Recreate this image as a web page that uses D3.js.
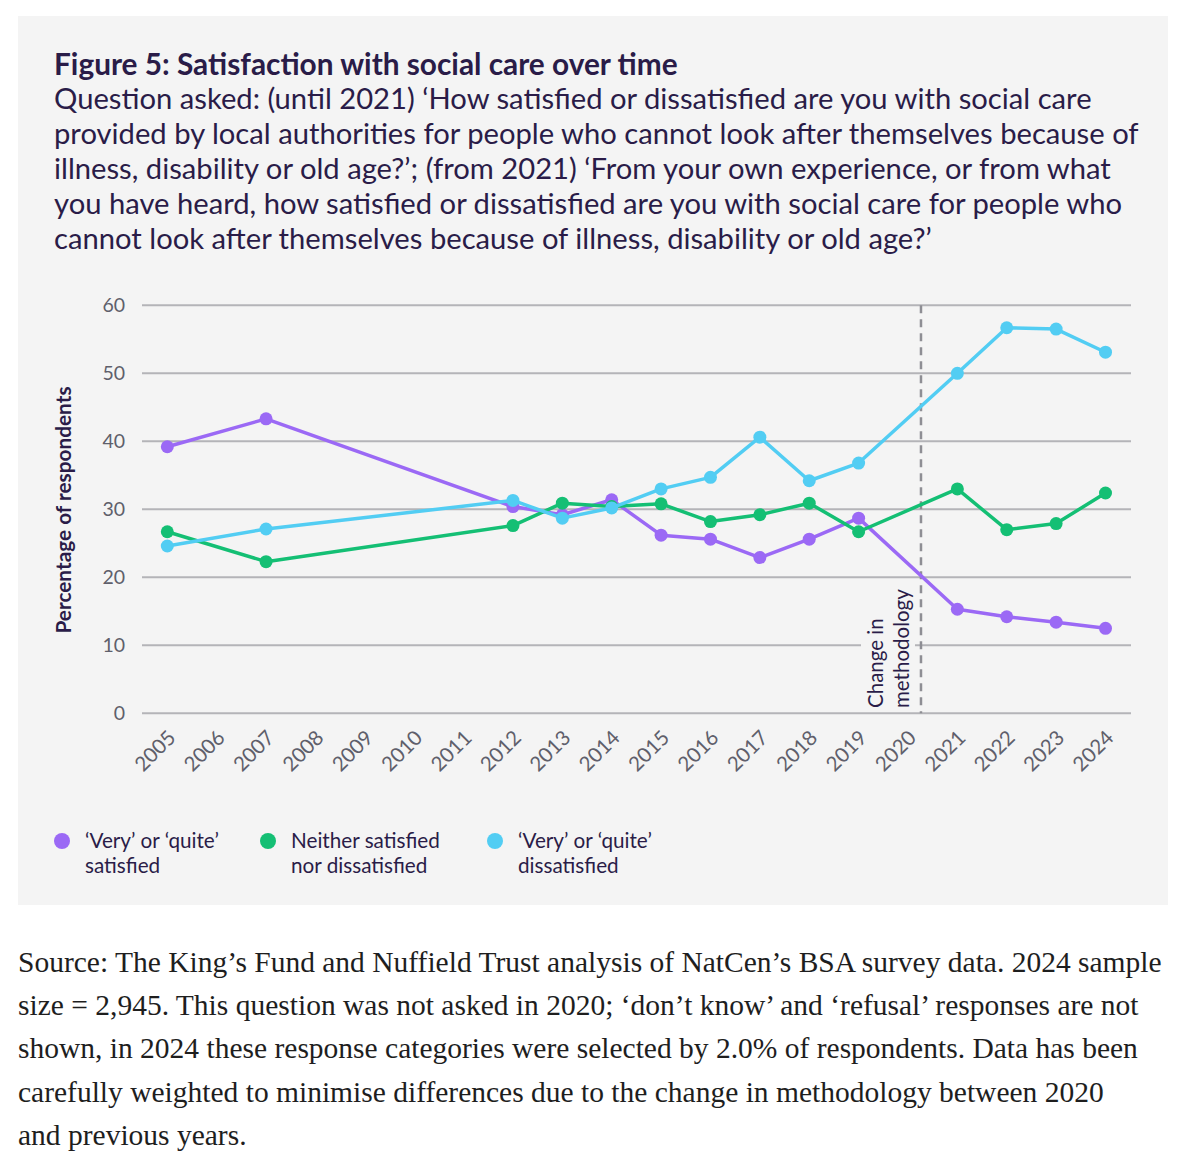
<!DOCTYPE html>
<html>
<head>
<meta charset="utf-8">
<script src="https://cdn.jsdelivr.net/npm/d3@7"></script>
<style>
  body { margin: 0; background: #ffffff; }
  svg { display: block; }
</style>
</head>
<body>
<div id="chart"></div>
<script>
// Survey years (no question asked in 2020)
var years = [2005, 2007, 2012, 2013, 2014, 2015, 2016, 2017, 2018, 2019, 2021, 2022, 2023, 2024];
var tickYears = d3.range(2005, 2025);
var yTicks = [0, 10, 20, 30, 40, 50, 60];

var satisfied    = [39.2, 43.3, 30.4, 29.2, 31.4, 26.2, 25.6, 22.9, 25.6, 28.7, 15.3, 14.2, 13.4, 12.5];
var neither      = [26.7, 22.3, 27.6, 30.9, 30.4, 30.8, 28.2, 29.2, 30.9, 26.7, 33.0, 27.0, 27.9, 32.4];
var dissatisfied = [24.6, 27.1, 31.3, 28.7, 30.2, 33.0, 34.7, 40.6, 34.2, 36.8, 50.0, 56.7, 56.5, 53.1];

var seriesNames = [["\u2018Very\u2019 or \u2018quite\u2019", "satisfied"],
                   ["Neither satisfied", "nor dissatisfied"],
                   ["\u2018Very\u2019 or \u2018quite\u2019", "dissatisfied"]];
var seriesValues = [satisfied, neither, dissatisfied];
var seriesColors = ["#9b69f5", "#14bf74", "#52cdf3"];

var titleText = "Figure 5: Satisfaction with social care over time";
var questionLines = [
  "Question asked: (until 2021) \u2018How satisfied or dissatisfied are you with social care",
  "provided by local authorities for people who cannot look after themselves because of",
  "illness, disability or old age?\u2019; (from 2021) \u2018From your own experience, or from what",
  "you have heard, how satisfied or dissatisfied are you with social care for people who",
  "cannot look after themselves because of illness, disability or old age?\u2019"
];
var sourceLines = [
  "Source: The King\u2019s Fund and Nuffield Trust analysis of NatCen\u2019s BSA survey data. 2024 sample",
  "size = 2,945. This question was not asked in 2020; \u2018don\u2019t know\u2019 and \u2018refusal\u2019 responses are not",
  "shown, in 2024 these response categories were selected by 2.0% of respondents. Data has been",
  "carefully weighted to minimise differences due to the change in methodology between 2020",
  "and previous years."
];
var breakLabel = ["Change in", "methodology"];

var sans = "Lato, 'Noto Sans', sans-serif";
var ink = "#2a1c48";

var svg = d3.select("#chart")
    .append("svg")
    .attr("width", 1200)
    .attr("height", 1174);

// grey panel behind the figure
svg.append("rect")
    .attr("x", 18).attr("y", 16)
    .attr("width", 1150).attr("height", 889)
    .attr("fill", "#f4f4f4");

svg.append("text")
    .attr("x", 54).attr("y", 75)
    .attr("font-family", sans)
    .attr("font-weight", "bold")
    .attr("font-size", 29.8)
    .attr("fill", ink)
    .text(titleText);

svg.selectAll(".question")
    .data(questionLines)
    .enter()
    .append("text")
    .attr("class", "question")
    .attr("x", 54)
    .attr("y", function(d, i) { return 109 + i * 35; })
    .attr("font-family", sans)
    .attr("font-size", 29.2)
    .attr("fill", ink)
    .text(function(d) { return d; });

// scales
var x = d3.scaleLinear().domain([2005, 2024]).range([167.3, 1105.5]);
var y = d3.scaleLinear().domain([0, 60]).range([713.3, 305.3]);

// gridlines
svg.selectAll(".grid")
    .data(yTicks)
    .enter()
    .append("line")
    .attr("class", "grid")
    .attr("x1", 142).attr("x2", 1131)
    .attr("y1", function(d) { return y(d); })
    .attr("y2", function(d) { return y(d); })
    .attr("stroke", "#b4b4b8")
    .attr("stroke-width", 2);

var yAxis = svg.append("g")
    .attr("transform", "translate(142,0)")
    .call(d3.axisLeft(y).tickValues(yTicks).tickSize(0).tickPadding(17));
yAxis.select(".domain").remove();
yAxis.selectAll("text")
    .attr("font-family", sans)
    .attr("font-size", 19.5)
    .attr("fill", "#5f5f6b");

svg.append("text")
    .attr("transform", "translate(71,510) rotate(-90)")
    .attr("text-anchor", "middle")
    .attr("font-family", sans)
    .attr("font-weight", "bold")
    .attr("font-size", 20.8)
    .attr("fill", ink)
    .text("Percentage of respondents");

var xAxis = svg.append("g")
    .attr("transform", "translate(0,713)")
    .call(d3.axisBottom(x).tickValues(tickYears).tickFormat(d3.format("d")).tickSize(0));
xAxis.select(".domain").remove();
xAxis.selectAll("text")
    .attr("font-family", sans)
    .attr("font-size", 20.5)
    .attr("fill", "#5f5f6b")
    .attr("text-anchor", "end")
    .attr("dy", null)
    .attr("y", 0)
    .attr("transform", "translate(9,26) rotate(-45)");

// methodology break, drawn just right of the 2020 tick
var breakX = x(2020) + 13;
svg.append("rect")
    .attr("x", breakX - 60).attr("y", 582)
    .attr("width", 54).attr("height", 128)
    .attr("fill", "#f4f4f4");
svg.append("line")
    .attr("x1", breakX).attr("x2", breakX)
    .attr("y1", y(60)).attr("y2", y(0))
    .attr("stroke", "#8e8e94")
    .attr("stroke-width", 2.5)
    .attr("stroke-dasharray", "8,6");
svg.selectAll(".breakLabel")
    .data(breakLabel)
    .enter()
    .append("text")
    .attr("class", "breakLabel")
    .attr("transform", function(d, i) {
        return "translate(" + (breakX - 38 + i * 26) + "," + 708 + ") rotate(-90)";
    })
    .attr("font-family", sans)
    .attr("font-size", 20.5)
    .attr("fill", ink)
    .text(function(d) { return d; });

// series
var line = d3.line()
    .x(function(d) { return x(d.year); })
    .y(function(d) { return y(d.value); });

seriesValues.forEach(function(values, s) {
    var pts = years.map(function(yr, i) { return { year: yr, value: values[i] }; });
    var g = svg.append("g");
    g.append("path")
        .datum(pts)
        .attr("d", line)
        .attr("fill", "none")
        .attr("stroke", seriesColors[s])
        .attr("stroke-width", 3.5)
        .attr("stroke-linejoin", "round");
    g.selectAll("circle")
        .data(pts)
        .enter()
        .append("circle")
        .attr("cx", function(d) { return x(d.year); })
        .attr("cy", function(d) { return y(d.value); })
        .attr("r", 6.5)
        .attr("fill", seriesColors[s]);
});

// legend
var legendX = [62, 268, 495];
var legend = svg.selectAll(".legend")
    .data(seriesNames)
    .enter()
    .append("g")
    .attr("class", "legend")
    .attr("transform", function(d, i) { return "translate(" + legendX[i] + ",841)"; });
legend.append("circle")
    .attr("r", 8)
    .attr("fill", function(d, i) { return seriesColors[i]; });
legend.selectAll("text")
    .data(function(d) { return d; })
    .enter()
    .append("text")
    .attr("x", 23)
    .attr("y", function(d, i) { return 7 + i * 25; })
    .attr("font-family", sans)
    .attr("font-size", 20.7)
    .attr("fill", ink)
    .text(function(d) { return d; });

// source note below the panel
svg.selectAll(".source")
    .data(sourceLines)
    .enter()
    .append("text")
    .attr("class", "source")
    .attr("x", 18)
    .attr("y", function(d, i) { return 972 + i * 43.2; })
    .attr("font-family", "'Liberation Serif', 'DejaVu Serif', serif")
    .attr("font-size", 29.5)
    .attr("fill", "#1e1e1e")
    .text(function(d) { return d; });
</script>
</body>
</html>
